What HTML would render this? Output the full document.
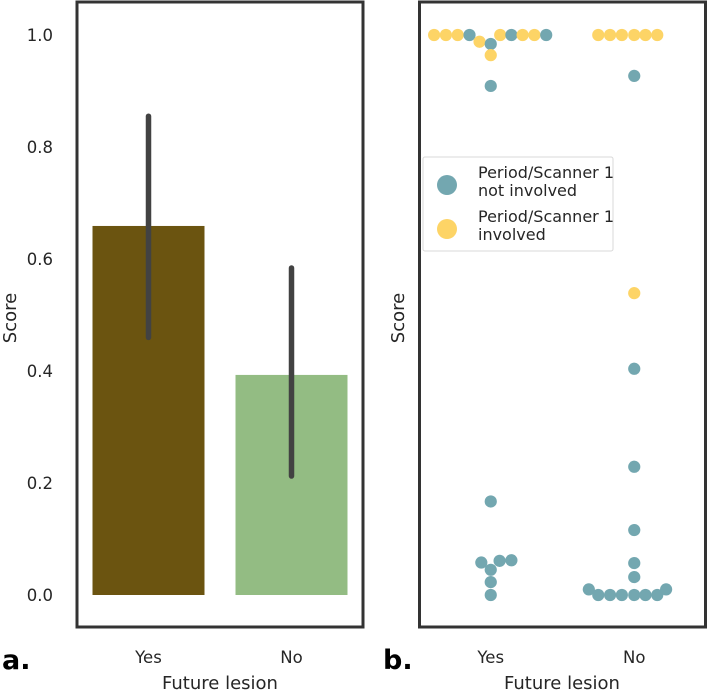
<!DOCTYPE html>
<html><head><meta charset="utf-8"><style>
body{margin:0;background:#fff;}
svg text{font-family:"DejaVu Sans","Liberation Sans",sans-serif;fill:#262626;}
</style></head><body>
<svg width="708" height="692" viewBox="0 0 708 692" id="fig">
<g id="pa"></g>
<g id="pb"></g>
</svg>
<script>
const categories = ["Yes","No"];
const barValues = [0.659, 0.393];
const ciLow = [0.46, 0.2125];
const ciHigh = [0.855, 0.584];
const yTicks = [0.0,0.2,0.4,0.6,0.8,1.0];
const barColors = ["#6b5410","#93bc83"];
// swarm points: category index, score, involved flag
const swarmCat = [0,0,0,0,0,0,0,0,0,0,0,0,0, 0,0,0,0,0,0,0,
  1,1,1,1,1,1, 1,1,1,1,1,1,1,1, 1,1,1,1,1,1,1];
const swarmScore = [1,1,1,1,0.988,0.984,0.964,1,1,1,1,1,0.909, 0.167,0.058,0.061,0.062,0.045,0.023,0.0,
  1,1,1,1,1,1, 0.927,0.539,0.404,0.229,0.116,0.057,0.032,0.01, 0,0,0,0,0,0,0.01];
const swarmInvolved = [1,1,1,0,1,0,1,1,0,1,1,0,0, 0,0,0,0,0,0,0,
  1,1,1,1,1,1, 0,1,0,0,0,0,0,0, 0,0,0,0,0,0,0];
// layout: horizontal swarm offsets (in dot widths)
const swarmOff = [-4.8,-3.8,-2.8,-1.8,-0.95,0,0,0.8,1.75,2.7,3.7,4.7,0, 0,-0.8,0.75,1.75,0,0,0,
  -3.05,-2.05,-1.05,0,0.95,1.95, 0,0,0,0,0,0,0,-3.85, -3.05,-2.05,-1.05,0,0.95,1.95,2.7];

const NS="http://www.w3.org/2000/svg";
function el(tag,attrs,parent,txt){const e=document.createElementNS(NS,tag);for(const k in attrs)e.setAttribute(k,attrs[k]);if(txt!==undefined)e.textContent=txt;parent.appendChild(e);return e;}
const y=v=>595-v*560;
const pa=document.getElementById('pa'), pb=document.getElementById('pb');
const xa=i=>77+143*(i+0.5), xb=i=>419+143.5*(i+0.5);

// panel a
for(let i=0;i<categories.length;i++){
  const b=el('rect',{x:xa(i)-56,y:y(barValues[i]),width:112,height:y(0)-y(barValues[i]),fill:barColors[i]},pa);
  
  
  const e=el('line',{x1:xa(i),x2:xa(i),y1:y(ciLow[i]),y2:y(ciHigh[i]),stroke:'#424242','stroke-width':5.5,'stroke-linecap':'round'},pa);
  
  
  const t=el('text',{x:xa(i),y:663,'text-anchor':'middle','font-size':16.5},pa,categories[i]);
  
  
  const t2=el('text',{x:xb(i),y:663,'text-anchor':'middle','font-size':16.5},pb,categories[i]);
  
  
}
for(const v of yTicks){
  const t=el('text',{x:53,y:y(v)+6,'text-anchor':'end','font-size':16.5},pa,v.toFixed(1));
  
  
}
const fa=el('rect',{x:77,y:2,width:286,height:625,fill:'none',stroke:'#333','stroke-width':3},pa);


const fb=el('rect',{x:419.5,y:2,width:286,height:625,fill:'none',stroke:'#333','stroke-width':3},pb);



// panel b swarm
for(let i=0;i<swarmScore.length;i++){
  const c=el('circle',{cx:xb(swarmCat[i])+swarmOff[i]*11.8,cy:y(swarmScore[i]),r:6.1,fill:swarmInvolved[i]?'#fdd466':'#73a7b0'},pb);
  
  
}

// labels
const labels=[[pa,'Score',16,318,'y-axis-title-a',true],[pb,'Score',404,318,'y-axis-title-b',true],
 [pa,'Future lesion',220,689,'x-axis-title-a',false],[pb,'Future lesion',562,689,'x-axis-title-b',false]];
for(const [p,s,x0,y0,n,rot] of labels){
  const t=el('text',{x:x0,y:y0,'text-anchor':'middle','font-size':18,transform:rot?`rotate(-90 ${x0} ${y0})`:''},p,s);
  
  
}
const la=el('text',{x:2,y:669,'font-size':27,'font-weight':'bold','style':'fill:#000'},pa,'a.');


const lb=el('text',{x:383,y:669,'font-size':27,'font-weight':'bold','style':'fill:#000'},pb,'b.');



// legend
const lg=el('g',{},pb);


el('rect',{x:423,y:157,width:190,height:94,fill:'#fff',stroke:'#d8d8d8','stroke-width':1,rx:2},lg);
const entries=[['#73a7b0','Period/Scanner 1','not involved',185],['#fdd466','Period/Scanner 1','involved',229]];
for(const [col,a,b,cy] of entries){
  const g=el('g',{},lg);
  
  
  el('circle',{cx:447,cy:cy,r:10,fill:col},g);
  el('text',{x:478,y:cy-7,'font-size':16},g,a);
  el('text',{x:478,y:cy+11,'font-size':16},g,b);
}
</script>
</body></html>
